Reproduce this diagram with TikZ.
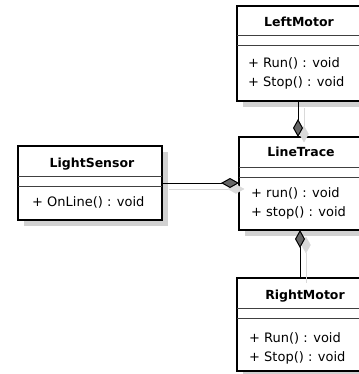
\documentclass[tikz,border=0pt]{standalone}
\usepackage{fontspec}
\setmainfont{DejaVu Sans}
\usetikzlibrary{arrows.meta, calc, shadows}

\begin{document}
\begin{tikzpicture} [
     x=1pt, y=1pt,
   cls/.style = {line width=2pt, fill=white, anchor=north west, inner sep=0pt, outer sep=0pt,
                 drop shadow={shadow xshift=6pt, shadow yshift=-6pt, fill=black!18, opacity=1}},
 frame/.style = {draw, line width=2pt, line join=miter},
   ttl/.style = {anchor=base, inner sep=0pt, font=\bfseries\fontsize{12.5}{15}\selectfont},
   ops/.style = {anchor=base west, inner sep=0pt, align=left, font=\fontsize{13}{19}\selectfont},
   sep/.style = {draw=black!75, line width=1pt},
   agg/.style = {draw, line width=1pt, {Diamond[length=18pt, width=10pt, fill=black!60]}-,
                 preaction={draw=black!15, {Diamond[length=18pt, width=10pt, fill=black!15]}-,
                            transform canvas={shift={(6pt,-6pt)}}}}
]
  % the right side of the classes runs off the page
  \useasboundingbox (0,0) rectangle (358,-374);

  % Classes
  \node[cls, minimum width=128pt, minimum height=95pt] (leftMotor)   at (237,-6)   {};
  \node[cls, minimum width=126pt, minimum height=93pt] (lineTrace)   at (239,-137) {};
  \node[cls, minimum width=144pt, minimum height=74pt] (lightSensor) at (18,-146)  {};
  \node[cls, minimum width=136pt, minimum height=93pt] (rightMotor)  at (237,-278) {};

  % outlines, left open on the right where the class leaves the page
  \foreach \c in {leftMotor, lineTrace, rightMotor}
    \draw[frame] (\c.north east) -- (\c.north west) -- (\c.south west) -- (\c.south east);
  \draw[frame] (lightSensor.north west) rectangle (lightSensor.south east);

  % compartments
  \foreach \c in {leftMotor, lineTrace, lightSensor, rightMotor}
    \foreach \d in {30, 40}
      \draw[sep] ($(\c.north west)+(0,-\d)$) -- ($(\c.north east)+(0,-\d)$);

  % names
  \node[ttl] (leftMotorName)   at ($(leftMotor.north)+(-2,-21)$)  {LeftMotor};
  \node[ttl] (lineTraceName)   at ($(lineTrace.north)+(-1,-20)$)  {LineTrace};
  \node[ttl] (lightSensorName) at ($(lightSensor.north)+(2,-21)$) {LightSensor};
  \node[ttl] (rightMotorName)  at ($(rightMotor.north)+(0,-21)$)  {RightMotor};

  % operations (base is the last line)
  \node[ops] (leftMotorOps)   at ($(leftMotor.north west)+(11,-81)$)   {+ Run() : void\\+ Stop() : void};
  \node[ops] (lineTraceOps)   at ($(lineTrace.north west)+(12,-79)$)   {+ run() : void\\+ stop() : void};
  \node[ops] (lightSensorOps) at ($(lightSensor.north west)+(14,-60)$) {+ OnLine() : void};
  \node[ops] (rightMotorOps)  at ($(rightMotor.north west)+(12,-83)$)  {+ Run() : void\\+ Stop() : void};

  % Aggregations
  \coordinate (top)    at ([xshift=-3pt]leftMotor.south);
  \coordinate (bottom) at ([xshift=-2pt]lineTrace.south);
  \draw[agg] (lineTrace.west |- lightSensor.east) -- ([xshift=1pt]lightSensor.east);
  \draw[agg] (lineTrace.north -| top) -- ([yshift=-1pt]top);
  \draw[agg] (bottom) -- ([yshift=1pt]bottom |- rightMotor.north);

\end{tikzpicture}
\end{document}
